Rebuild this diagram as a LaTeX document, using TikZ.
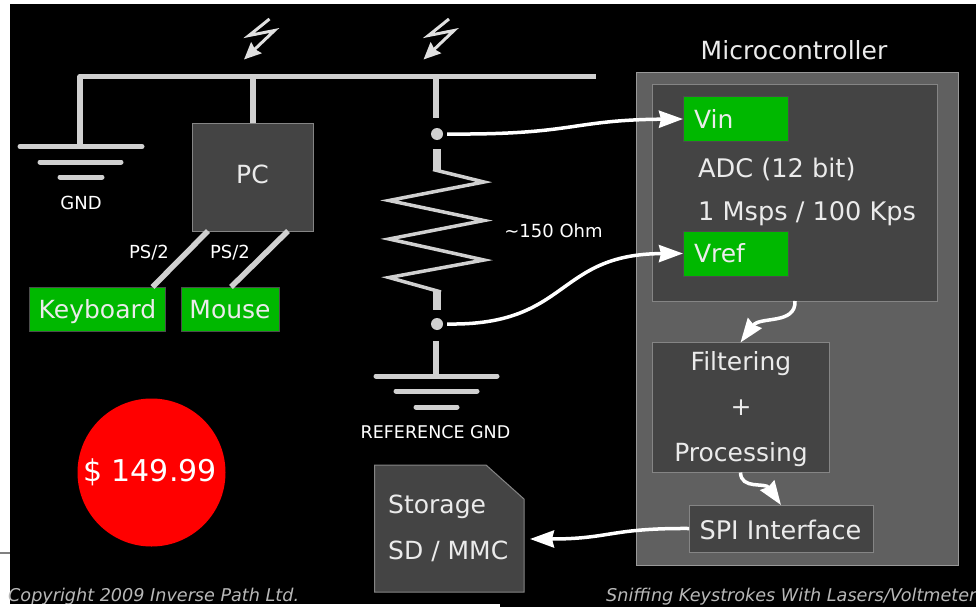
\documentclass[tikz,border=0pt]{standalone}
\usepackage{fontspec}
\setmainfont{DejaVu Sans}
\usetikzlibrary{arrows.meta}

\definecolor{wiregray}{HTML}{D0D0D0}
\definecolor{boxgray}{HTML}{444444}
\definecolor{boxline}{HTML}{858585}
\definecolor{mcugray}{HTML}{606060}
\definecolor{portgreen}{HTML}{00B800}

\begin{document}
\begin{tikzpicture}
    [
        x=1pt, y=-1pt,
        wire/.style = {
            draw=wiregray, line width=5.5pt
        },
        gndbar/.style = {
            draw=wiregray, line width=5pt, line cap=round
        },
        box/.style = {
            draw=boxline, fill=boxgray, line width=1pt, text=white!92!black,
            inner sep=0pt, outer sep=0pt, font=\fontsize{25}{30}\selectfont
        },
        port/.style = {
            box, draw=black!70, fill=portgreen, text=white!92!black
        },
        txt/.style = {
            inner sep=0pt, text=white!92!black, font=\fontsize{25}{30}\selectfont
        },
        wide/.style = {
            txt, font=\fontsize{25.6}{30}\selectfont
        },
        small/.style = {
            inner sep=0pt, text=white, font=\fontsize{18}{22}\selectfont
        },
        foot/.style = {
            inner sep=0pt, text=white!72!black, font=\fontsize{17.6}{20}\selectfont\itshape
        },
        link/.style = {
            draw=white, line width=3.5pt,
            -{Stealth[length=24pt, width=17pt, inset=2pt]}
        },
    ]
    \useasboundingbox (0,0) rectangle (976,607);
    \fill[white] (0,0) rectangle (976,607);
    \fill[black] (10,4) rectangle (976,607);
    \draw[gray, line width=2.5pt] (0,553) -- (10,553);

    % bus and left ground
    \coordinate (busleft) at (80,76.5);
    \coordinate (busright) at (596,76.5);
    \coordinate (buspc) at (253,76.5);
    \coordinate (busref) at (436,76.5);
    \coordinate (gndtop) at (80,146.5);
    \draw[wire, line join=round] (gndtop) -- (busleft) -- (busright);
    \draw[gndbar] (20,146.5) -- (142,146.5);
    \draw[gndbar] (40,162) -- (121,162);
    \draw[gndbar] (60,177) -- (102,177);
    \node[small] (gndlabel) at (81,203) {GND};

    % bolts
    \foreach \shift in {0,179.5} {
        \draw[draw=white!88!black, line width=3pt, line join=miter,
              -{Stealth[length=17pt, width=15pt, inset=2pt]}]
            (269.5+\shift,19) -- (249+\shift,35.5) -- (274.5+\shift,30.5) -- (244+\shift,59.5);
    }

    % pc and keyboard/mouse
    \node[box, minimum width=121pt, minimum height=108pt] (pc) at (252.5,177) {};
    \node[txt] (pclabel) at (252.5,174) {PC};
    \node[port, minimum width=136pt, minimum height=44pt] (keyboard) at (97.5,309) {};
    \node[port, minimum width=98pt, minimum height=44pt] (mouse) at (230,309) {};
    \node[txt] (keyboardlabel) at (97.5,312) {Keyboard};
    \node[txt] (mouselabel) at (230,310) {Mouse};
    \draw[wire] (buspc) -- (pc.north -| buspc);
    \draw[wire] ([xshift=16pt]pc.south west) -- ([xshift=-13pt]keyboard.north east);
    \draw[wire] ([xshift=-25pt]pc.south east) -- ([xshift=-48pt]mouse.north east);
    \node[small] (ps1) at (149,253) {PS/2};
    \node[small] (ps2) at (230,253) {PS/2};

    % resistor branch
    \node[circle, fill=wiregray, minimum size=12pt, inner sep=0pt] (tapin) at (437,134) {};
    \node[circle, fill=wiregray, minimum size=12pt, inner sep=0pt] (tapref) at (437,324) {};
    \coordinate (restop) at (436.5,170);
    \coordinate (resbot) at (437,291);
    \coordinate (reftop) at (436,341);
    \coordinate (refbot) at (436,374);
    \draw[draw=wiregray, line width=5.5pt] (busref) -- (436,118);
    \draw[draw=wiregray, line width=8pt] (436.5,149) -- (restop);
    \draw[draw=wiregray, line width=8pt] (resbot) -- (437,310);
    \draw[draw=wiregray, line width=3.5pt, line join=miter]
        (433,169.5) -- (484,182) -- (389,200.5) -- (484,220.5) -- (389,239) -- (484,260) -- (389,277.5) -- (441,292);
    \draw[wire] (reftop) -- (refbot);
    \draw[gndbar] (376,376) -- (497,376);
    \draw[gndbar] (396,391) -- (477,391);
    \draw[gndbar] (416,407) -- (457,407);
    \node[small, font=\fontsize{17.5}{21}\selectfont] (reflabel) at (435.5,432) {REFERENCE GND};
    \node[small] (ohm) at (553.5,231) {\textasciitilde 150 Ohm};

    % microcontroller
    \node[txt] (mcutitle) at (794,50) {Microcontroller};
    \node[box, draw=white!60!black, fill=mcugray, minimum width=322pt, minimum height=492pt] (mcu) at (797,319) {};
    \node[box, minimum width=285pt, minimum height=216pt] (adc) at (794.5,193) {};
    \node[port, minimum width=105pt, minimum height=45pt, text width=83pt, align=left] (vin) at (735.5,119) {Vin};
    \node[port, minimum width=105pt, minimum height=45pt, text width=83pt, align=left] (vref) at (735.5,253.5) {Vref};
    \node[wide, anchor=west] (adcname) at (698,169) {ADC (12 bit)};
    \node[wide, anchor=west] (adcrate) at (698,214) {1 Msps / 100 Kps};
    \node[box, minimum width=177pt, minimum height=130pt] (filter) at (740.5,407.5) {};
    \node[txt] (filtera) at (741,364) {Filtering};
    \node[txt] (filterb) at (741,408) {+};
    \node[txt] (filterc) at (741,455) {Processing};
    \node[box, minimum width=184pt, minimum height=47pt] (spi) at (781,528.5) {};
    \node[wide] (spilabel) at (780.5,530) {SPI Interface};

    % storage card
    \coordinate (cardnw) at (374.5,465);
    \coordinate (cardcut) at (486,465);
    \coordinate (cardne) at (524,499);
    \coordinate (cardse) at (524,592);
    \coordinate (cardsw) at (374.5,592);
    \draw[draw=boxline, fill=boxgray, line width=1pt] (cardnw) -- (cardcut) -- (cardne) -- (cardse) -- (cardsw) -- cycle;
    \node[txt, anchor=west] (storagea) at (388,507) {Storage};
    \node[txt, anchor=west] (storageb) at (388,551) {SD / MMC};

    % price
    \node[circle, fill=red, minimum size=148pt, inner sep=0pt] (price) at (151.5,472.5) {};
    \node[inner sep=0pt, text=white, font=\fontsize{30}{36}\selectfont] (pricelabel) at (150,472) {\$ 149.99};

    % arrows
    \coordinate (cardin) at (530,539);
    \draw[link] ([xshift=4pt]tapin.east) .. controls (575,135) and (570,120) .. (vin.west);
    \draw[link] ([xshift=4pt]tapref.east) .. controls (570,326) and (555,254) .. (vref.west);
    \draw[link] (795,301) .. controls (796,325) and (760,316) .. (filter.north);
    \draw[link] (filter.south) .. controls (741,490) and (765,482) .. (spi.north);
    \draw[link] (spi.west) .. controls (610,528) and (610,539) .. (cardin);

    % footer
    \node[foot, anchor=west] (copyright) at (8,597) {Copyright 2009 Inverse Path Ltd.};
    \node[foot, anchor=west] (talk) at (606,597) {Sniffing Keystrokes With Lasers/Voltmeter};
    \fill[white] (0,604) rectangle (500,607);
\end{tikzpicture}
\end{document}
